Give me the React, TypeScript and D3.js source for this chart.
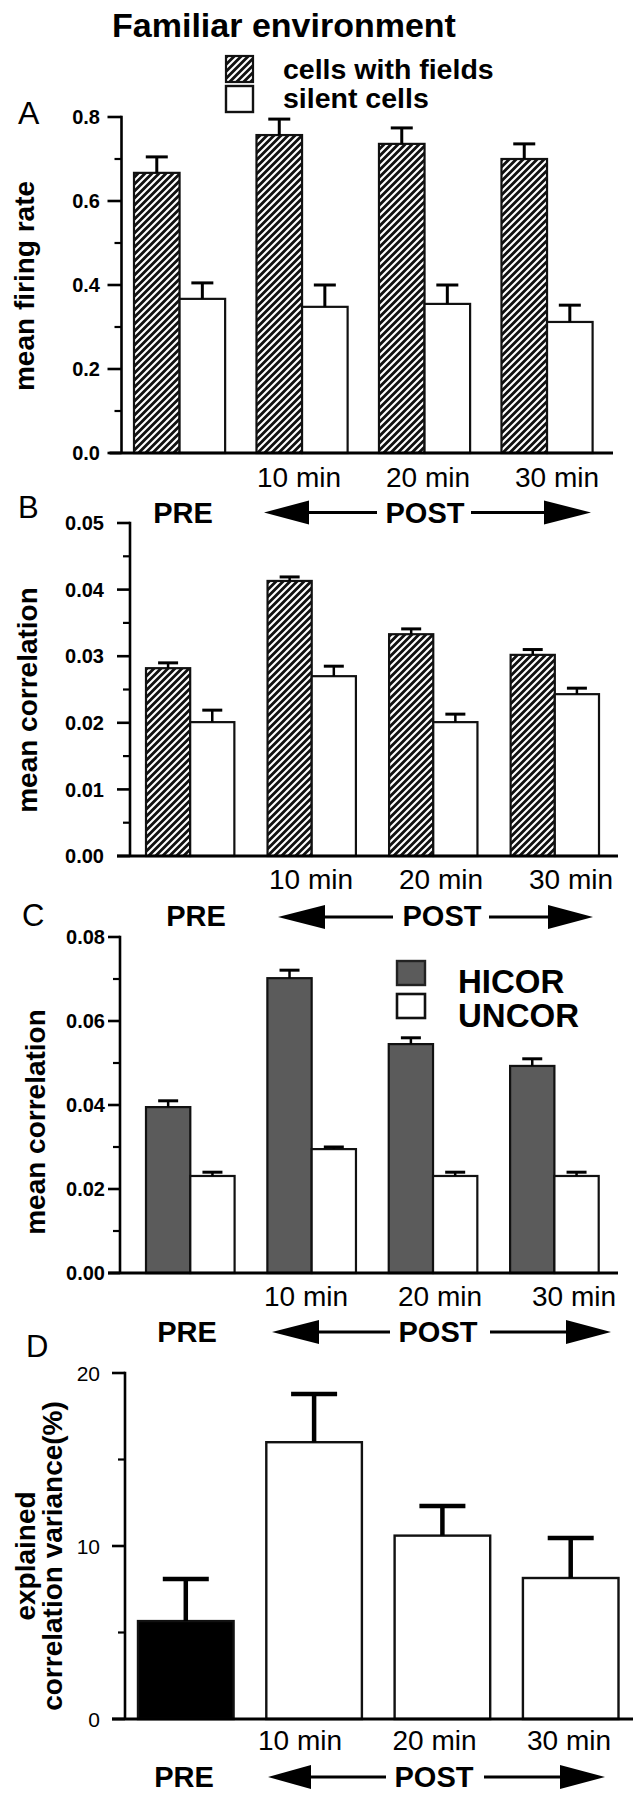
import React from "react";
import * as d3 from "d3";

const groups = ["PRE", "10 min", "20 min", "30 min"];
const postLabels = ["10 min", "20 min", "30 min"];
const legendAB = ["cells with fields", "silent cells"];
const legendC = ["HICOR", "UNCOR"];

// Panel A - mean firing rate
const aFields = [0.667, 0.757, 0.736, 0.7];
const aFieldsErr = [0.038, 0.038, 0.038, 0.036];
const aSilent = [0.367, 0.348, 0.355, 0.312];
const aSilentErr = [0.038, 0.052, 0.045, 0.04];
const aTicks = [0, 0.2, 0.4, 0.6, 0.8];
const aMinor = [0.1, 0.3, 0.5, 0.7];

// Panel B - mean correlation (cells with fields / silent)
const bFields = [0.0282, 0.0413, 0.0333, 0.0302];
const bFieldsErr = [0.0008, 0.0006, 0.0008, 0.0008];
const bSilent = [0.0201, 0.027, 0.0201, 0.0243];
const bSilentErr = [0.0018, 0.0015, 0.0012, 0.0009];
const bTicks = [0, 0.01, 0.02, 0.03, 0.04, 0.05];
const bMinor = [0.005, 0.015, 0.025, 0.035, 0.045];

// Panel C - mean correlation (HICOR / UNCOR)
const cHicor = [0.0395, 0.0702, 0.0545, 0.0493];
const cHicorErr = [0.0015, 0.0019, 0.0015, 0.0017];
const cUncor = [0.0231, 0.0295, 0.0231, 0.0231];
const cUncorErr = [0.0009, 0.0005, 0.0009, 0.0009];
const cTicks = [0, 0.02, 0.04, 0.06, 0.08];
const cMinor = [0.01, 0.03, 0.05, 0.07];

// Panel D - explained correlation variance (%)
const dVar = [5.66, 16.0, 10.6, 8.15];
const dVarErr = [2.43, 2.79, 1.71, 2.31];
const dTicks = [0, 10, 20];
const dMinor = [5, 15];

const FONT = "'Liberation Sans', Arial, Helvetica, sans-serif";

type Layout = {
  yMax: number; yBottom: number; yTop: number; axisX: number; xStart: number; xEnd: number;
  bandL: number; bandR: number; pad: number; tickLen: number; labelRight: number;
  catL: number; catR: number; catBase: number;
};

const LA: Layout = { yMax: 0.8, yBottom: 453, yTop: 117, axisX: 121.5, xStart: 109.5, xEnd: 613,
  bandL: 134, bandR: 592.6, pad: 0.256, tickLen: 14, labelRight: 100, catL: 299, catR: 557, catBase: 487 };
const LB: Layout = { yMax: 0.05, yBottom: 856, yTop: 523, axisX: 130, xStart: 117, xEnd: 618,
  bandL: 146, bandR: 599, pad: 0.273, tickLen: 13, labelRight: 104, catL: 311, catR: 571, catBase: 889 };
const LC: Layout = { yMax: 0.08, yBottom: 1273, yTop: 937, axisX: 120, xStart: 108, xEnd: 618,
  bandL: 146, bandR: 598.7, pad: 0.27, tickLen: 12, labelRight: 105, catL: 306, catR: 574, catBase: 1306 };
const LD: Layout = { yMax: 20, yBottom: 1719, yTop: 1373, axisX: 125, xStart: 112, xEnd: 633,
  bandL: 138, bandR: 618.5, pad: 0.255, tickLen: 13, labelRight: 100, catL: 300, catR: 569, catBase: 1750 };

type ArrowRow = { y: number; base: number; preX: number; tipL: number; baseL: number; endL: number;
  postX: number; startR: number; baseR: number; tipR: number };
const arrA: ArrowRow = { y: 512.5, base: 523, preX: 183, tipL: 264, baseL: 309, endL: 377, postX: 425, startR: 471, baseR: 544, tipR: 591 };
const arrB: ArrowRow = { y: 917, base: 926, preX: 196, tipL: 278, baseL: 325, endL: 393, postX: 442, startR: 489, baseR: 548, tipR: 593 };
const arrC: ArrowRow = { y: 1332, base: 1342, preX: 187, tipL: 272, baseL: 319, endL: 390, postX: 438, startR: 490, baseR: 566, tipR: 611 };
const arrD: ArrowRow = { y: 1777, base: 1787, preX: 184, tipL: 268, baseL: 311, endL: 386, postX: 434, startR: 484, baseR: 560, tipR: 605 };

function PrePost({ a }: { a: ArrowRow }) {
  const h = 12;
  return (
    <g fontFamily={FONT} fontWeight="bold" fontSize={29}>
      <text x={a.preX} y={a.base} textAnchor="middle">PRE</text>
      <text x={a.postX} y={a.base} textAnchor="middle">POST</text>
      <path d={`M${a.tipL},${a.y}L${a.baseL},${a.y - h}L${a.baseL},${a.y + h}Z`} fill="#000" />
      <line x1={a.baseL} x2={a.endL} y1={a.y} y2={a.y} stroke="#000" strokeWidth={3} />
      <line x1={a.startR} x2={a.baseR} y1={a.y} y2={a.y} stroke="#000" strokeWidth={3} />
      <path d={`M${a.tipR},${a.y}L${a.baseR},${a.y - h}L${a.baseR},${a.y + h}Z`} fill="#000" />
    </g>
  );
}

function YAxis({ L, ticks, minor, fmt, weight, size }: { L: Layout; ticks: number[]; minor: number[]; fmt: (v: number) => string; weight: string; size: number }) {
  const y = d3.scaleLinear().domain([0, L.yMax]).range([L.yBottom, L.yTop]);
  return (
    <g>
      <line x1={L.axisX} x2={L.axisX} y1={y(L.yMax) - 1.25} y2={y(0)} stroke="#000" strokeWidth={2.6} />
      <line x1={L.xStart} x2={L.xEnd} y1={y(0)} y2={y(0)} stroke="#000" strokeWidth={2.8} />
      {ticks.map((t) => (
        <g key={t}>
          <line x1={L.axisX - L.tickLen} x2={L.axisX} y1={y(t)} y2={y(t)} stroke="#000" strokeWidth={2.6} />
          <text x={L.labelRight} y={y(t)} dy="0.36em" textAnchor="end" fontFamily={FONT} fontWeight={weight} fontSize={size}>
            {fmt(t)}
          </text>
        </g>
      ))}
      {minor.map((t) => (
        <line key={t} x1={L.axisX - 7} x2={L.axisX} y1={y(t)} y2={y(t)} stroke="#000" strokeWidth={2.2} />
      ))}
    </g>
  );
}

function CatLabels({ L }: { L: Layout }) {
  const p = d3.scalePoint<string>().domain(postLabels).range([L.catL, L.catR]);
  return (
    <g fontFamily={FONT} fontSize={28}>
      {postLabels.map((c) => (
        <text key={c} x={p(c)} y={L.catBase} textAnchor="middle">{c}</text>
      ))}
    </g>
  );
}

type Series = { values: number[]; errs: number[]; fill: string };

function GroupedBars({ L, s1, s2, capW, errW }: { L: Layout; s1: Series; s2: Series; capW: number; errW: number }) {
  const y = d3.scaleLinear().domain([0, L.yMax]).range([L.yBottom, L.yTop]);
  const band = d3.scaleBand<string>().domain(groups).range([L.bandL, L.bandR]).paddingInner(L.pad).paddingOuter(0);
  const sub = d3.scaleBand<number>().domain([0, 1]).range([0, band.bandwidth()]);
  const series = [s1, s2];
  return (
    <g>
      {groups.map((g, i) =>
        series.map((s, k) => {
          const x = (band(g) as number) + (sub(k) as number);
          const w = sub.bandwidth();
          const cx = x + w / 2;
          const top = y(s.values[i]);
          const et = y(s.values[i] + s.errs[i]);
          return (
            <g key={g + k}>
              <rect x={x} y={top} width={w} height={y(0) - top} fill={s.fill} stroke="#111" strokeWidth={2.2} />
              <line x1={cx} x2={cx} y1={top} y2={et} stroke="#000" strokeWidth={errW} />
              <line x1={cx - capW / 2} x2={cx + capW / 2} y1={et} y2={et} stroke="#000" strokeWidth={3} />
            </g>
          );
        })
      )}
    </g>
  );
}

function SingleBars({ L }: { L: Layout }) {
  const y = d3.scaleLinear().domain([0, L.yMax]).range([L.yBottom, L.yTop]);
  const band = d3.scaleBand<string>().domain(groups).range([L.bandL, L.bandR]).paddingInner(L.pad).paddingOuter(0);
  return (
    <g>
      {groups.map((g, i) => {
        const x = band(g) as number;
        const w = band.bandwidth();
        const cx = x + w / 2;
        const top = y(dVar[i]);
        const et = y(dVar[i] + dVarErr[i]);
        return (
          <g key={g}>
            <rect x={x} y={top} width={w} height={y(0) - top} fill={i === 0 ? "#000" : "#fff"} stroke="#111" strokeWidth={2.4} />
            <line x1={cx} x2={cx} y1={top} y2={et} stroke="#000" strokeWidth={4.5} />
            <line x1={cx - 23} x2={cx + 23} y1={et} y2={et} stroke="#000" strokeWidth={4.5} />
          </g>
        );
      })}
    </g>
  );
}

function RotLabel({ x, y, text, size }: { x: number; y: number; text: string; size: number }) {
  return (
    <text transform={`translate(${x},${y}) rotate(-90)`} textAnchor="middle" fontFamily={FONT} fontWeight="bold" fontSize={size}>
      {text}
    </text>
  );
}

export default function App() {
  const fmt1 = d3.format(".1f");
  const fmt2 = d3.format(".2f");
  const fmt0 = d3.format("d");
  return (
    <svg width={633} height={1800} style={{ position: "absolute", left: 0, top: 0, background: "#fff" }}>
      <defs>
        <pattern id="hatch" patternUnits="userSpaceOnUse" width={7} height={7}>
          <rect width={7} height={7} fill="#111" />
          <path d="M-2,2L2,-2M0,7L7,0M5,9L9,5" stroke="#fff" strokeWidth={2.1} />
        </pattern>
      </defs>
      <rect width={633} height={1800} fill="#fff" />

      {/* Title and legend */}
      <text x={284} y={37} textAnchor="middle" fontFamily={FONT} fontWeight="bold" fontSize={34}>Familiar environment</text>
      <rect x={226} y={56} width={27} height={26} fill="url(#hatch)" stroke="#111" strokeWidth={2.2} />
      <rect x={226} y={86} width={27} height={26} fill="#fff" stroke="#111" strokeWidth={2.4} />
      <g fontFamily={FONT} fontWeight="bold" fontSize={28.5}>
        <text x={283} y={79}>{legendAB[0]}</text>
        <text x={283} y={108}>{legendAB[1]}</text>
      </g>

      {/* Panel A */}
      <text x={18} y={124} fontFamily={FONT} fontSize={32}>A</text>
      <RotLabel x={34} y={286} text="mean firing rate" size={28} />
      <GroupedBars L={LA} s1={{ values: aFields, errs: aFieldsErr, fill: "url(#hatch)" }} s2={{ values: aSilent, errs: aSilentErr, fill: "#fff" }} capW={22} errW={3} />
      <YAxis L={LA} ticks={aTicks} minor={aMinor} fmt={fmt1} weight="bold" size={20} />
      <CatLabels L={LA} />
      <PrePost a={arrA} />

      {/* Panel B */}
      <text x={18} y={518} fontFamily={FONT} fontSize={31}>B</text>
      <RotLabel x={37} y={700} text="mean correlation" size={28} />
      <GroupedBars L={LB} s1={{ values: bFields, errs: bFieldsErr, fill: "url(#hatch)" }} s2={{ values: bSilent, errs: bSilentErr, fill: "#fff" }} capW={20} errW={2.5} />
      <YAxis L={LB} ticks={bTicks} minor={bMinor} fmt={fmt2} weight="bold" size={20} />
      <CatLabels L={LB} />
      <PrePost a={arrB} />

      {/* Panel C */}
      <text x={22} y={926} fontFamily={FONT} fontSize={31}>C</text>
      <RotLabel x={45} y={1122} text="mean correlation" size={28} />
      <GroupedBars L={LC} s1={{ values: cHicor, errs: cHicorErr, fill: "#5b5b5b" }} s2={{ values: cUncor, errs: cUncorErr, fill: "#fff" }} capW={20} errW={2.5} />
      <YAxis L={LC} ticks={cTicks} minor={cMinor} fmt={fmt2} weight="bold" size={20} />
      <rect x={397} y={961} width={28} height={24} fill="#5b5b5b" stroke="#222" strokeWidth={2.4} />
      <rect x={397} y={994} width={28} height={24} fill="#fff" stroke="#111" strokeWidth={2.6} />
      <g fontFamily={FONT} fontWeight="bold" fontSize={33}>
        <text x={458} y={993}>{legendC[0]}</text>
        <text x={458} y={1027}>{legendC[1]}</text>
      </g>
      <CatLabels L={LC} />
      <PrePost a={arrC} />

      {/* Panel D */}
      <text x={26} y={1357} fontFamily={FONT} fontSize={31}>D</text>
      <RotLabel x={35} y={1556} text="explained" size={28} />
      <RotLabel x={62} y={1556} text="correlation variance(%)" size={28} />
      <SingleBars L={LD} />
      <YAxis L={LD} ticks={dTicks} minor={dMinor} fmt={fmt0} weight="normal" size={21} />
      <CatLabels L={LD} />
      <PrePost a={arrD} />
    </svg>
  );
}
